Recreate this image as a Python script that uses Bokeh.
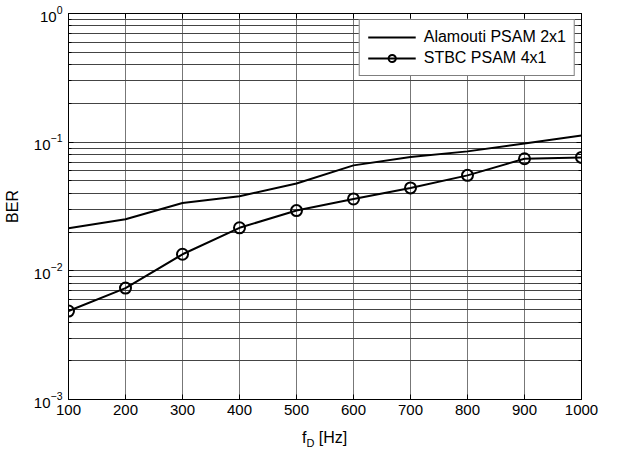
from bokeh.plotting import figure
from bokeh.layouts import column
from bokeh.models import (LinearAxis, LogAxis, Legend, LegendItem, Div,
                          FixedTicker, LogTicker, CustomJSTickFormatter)
from bokeh.embed import file_html
from bokeh.resources import INLINE

# ---- data ----
fd_hz = [100, 200, 300, 400, 500, 600, 700, 800, 900, 1000]
ber_alamouti_2x1 = [0.0214, 0.0252, 0.0337, 0.0380, 0.0477, 0.0660, 0.0766, 0.0848, 0.0977, 0.1127]
ber_stbc_4x1 = [0.00487, 0.00734, 0.01345, 0.0216, 0.0294, 0.0362, 0.0441, 0.0552, 0.0743, 0.0761]
x_ticks = [100, 200, 300, 400, 500, 600, 700, 800, 900, 1000]
series_names = ["Alamouti PSAM 2x1", "STBC PSAM 4x1"]
xlabel_parts = ["f", "D", "[Hz]"]

FONT = "Liberation Sans"

p = figure(width=614, height=421, x_range=(100, 1000), y_range=(1e-3, 1),
           y_axis_type="log", output_backend="svg", toolbar_location=None,
           min_border_left=62, min_border_right=33, min_border_top=13,
           min_border_bottom=22)
p.title.visible = False
p.background_fill_color = "white"
p.border_fill_color = "white"
p.outline_line_color = "black"
p.outline_line_width = 1

# grids
p.xgrid.ticker = FixedTicker(ticks=x_ticks)
p.xgrid.grid_line_color = "#777777"
p.xgrid.grid_line_width = 1
p.ygrid.grid_line_color = "#444444"
p.ygrid.grid_line_width = 1
p.ygrid.minor_grid_line_color = "#444444"
p.ygrid.minor_grid_line_width = 1

# x axis
xa = p.xaxis[0]
xa.ticker = FixedTicker(ticks=x_ticks)
xa.major_label_text_font = FONT
xa.major_label_text_font_size = "15px"
xa.major_label_text_color = "black"
xa.major_tick_in = 5
xa.major_tick_out = 0
xa.minor_tick_line_color = None
xa.major_label_standoff = 5
xa.axis_line_color = "black"

# y axis
ya = p.yaxis[0]
ya.axis_label = "BER"
ya.axis_label_text_font = FONT
ya.axis_label_text_font_size = "16px"
ya.axis_label_text_font_style = "normal"
ya.axis_label_text_color = "black"
ya.axis_label_standoff = 10
ya.major_label_text_font = FONT
ya.major_label_text_font_size = "15px"
ya.major_label_text_color = "black"
ya.major_tick_in = 5
ya.major_tick_out = 0
ya.minor_tick_in = 3
ya.minor_tick_out = 0
ya.major_label_standoff = 6

# top and right axes (ticks only, like a boxed plot)
top = LinearAxis(ticker=FixedTicker(ticks=x_ticks), major_tick_in=5, major_tick_out=0,
                 minor_tick_line_color=None, formatter=CustomJSTickFormatter(code="return ''"),
                 major_label_standoff=0, axis_line_color="black")
p.add_layout(top, "above")
right = LogAxis(ticker=LogTicker(), major_tick_in=5, major_tick_out=0,
                minor_tick_in=3, minor_tick_out=0, formatter=CustomJSTickFormatter(code="return ''"),
                major_label_standoff=0, axis_line_color="black")
p.add_layout(right, "right")

# data
r1 = p.line(fd_hz, ber_alamouti_2x1, line_color="black", line_width=2)
r2 = p.line(fd_hz, ber_stbc_4x1, line_color="black", line_width=2)
r3 = p.scatter(fd_hz, ber_stbc_4x1, marker="circle", size=11, line_color="black",
               line_width=2, fill_color=None)

legend = Legend(items=[LegendItem(label=series_names[0], renderers=[r1]),
                       LegendItem(label=series_names[1], renderers=[r2, r3])],
                location="top_right")
legend.label_text_font = FONT
legend.label_text_font_size = "16px"
legend.label_text_color = "black"
legend.glyph_width = 48
legend.glyph_height = 18
legend.label_height = 18
legend.label_standoff = 8
legend.spacing = 3
legend.padding = 8
legend.margin = 6
legend.border_line_color = "black"
legend.border_line_width = 1
legend.background_fill_color = "white"
legend.background_fill_alpha = 1
p.add_layout(legend, "center")

# x-axis label f_D [Hz] as real text under the plot
xlabel_html = (
    '<div style="margin-left:297px; margin-top:4px; white-space:nowrap; '
    'font-family:\'Liberation Sans\'; font-size:16px; line-height:16px; color:black;">'
    f'{xlabel_parts[0]}<span style="position:relative; top:4px; font-size:11px;">'
    f'{xlabel_parts[1]}</span> {xlabel_parts[2]}</div>'
)
xlabel = Div(text=xlabel_html, width=614, height=20, styles={"overflow": "visible"})

layout = column(p, xlabel, spacing=0)
open("out.html", "w").write(file_html(layout, INLINE))
